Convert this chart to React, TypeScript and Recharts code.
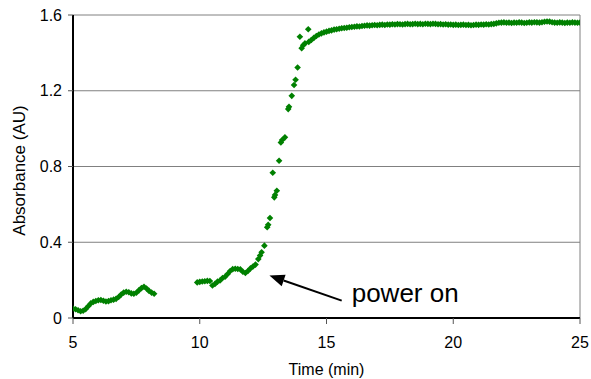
import React from 'react';
import { ScatterChart, Scatter, XAxis, YAxis, CartesianGrid, ReferenceLine } from 'recharts';

// Absorbance readings [time (min), absorbance (AU)]
const baseline: [number, number][] = [
  [5.0, 0.050], [5.1, 0.046], [5.2, 0.041], [5.3, 0.036], [5.4, 0.038], [5.5, 0.047],
  [5.6, 0.062], [5.7, 0.077], [5.8, 0.085], [5.9, 0.090], [6.0, 0.094], [6.1, 0.095],
  [6.2, 0.091], [6.3, 0.087], [6.4, 0.089], [6.5, 0.094], [6.6, 0.097], [6.7, 0.101],
  [6.8, 0.111], [6.9, 0.124], [7.0, 0.134], [7.1, 0.139], [7.2, 0.136], [7.3, 0.130],
  [7.4, 0.128], [7.5, 0.133], [7.6, 0.146], [7.7, 0.158], [7.8, 0.165], [7.9, 0.156],
  [8.0, 0.143], [8.1, 0.134], [8.2, 0.128],
];

const preheat: [number, number][] = [
  [9.9, 0.188], [10.0, 0.191], [10.1, 0.193], [10.2, 0.194], [10.3, 0.196], [10.4, 0.195],
  [10.5, 0.172], [10.6, 0.180], [10.7, 0.192], [10.8, 0.198], [10.9, 0.211], [11.0, 0.218],
  [11.1, 0.232], [11.2, 0.248], [11.3, 0.258], [11.4, 0.260], [11.5, 0.259], [11.6, 0.257],
  [11.7, 0.244], [11.8, 0.238], [11.9, 0.248], [12.0, 0.262], [12.1, 0.272], [12.2, 0.282],
];

const rise: [number, number][] = [
  [12.31, 0.311], [12.38, 0.330], [12.44, 0.347], [12.55, 0.382], [12.66, 0.479], [12.7, 0.492],
  [12.77, 0.528], [12.88, 0.767], [12.94, 0.637], [12.97, 0.650], [13.04, 0.672], [13.13, 0.830],
  [13.2, 0.927], [13.25, 0.940], [13.36, 0.954], [13.49, 1.103], [13.52, 1.115], [13.63, 1.173],
  [13.72, 1.230], [13.78, 1.258], [13.86, 1.323], [13.95, 1.485], [14.02, 1.425], [14.08, 1.440],
  [14.15, 1.450], [14.28, 1.525],
];

const plateau: [number, number][] = [
  [14.3, 1.458], [14.4, 1.468], [14.5, 1.479], [14.6, 1.489], [14.7, 1.497], [14.8, 1.503],
  [14.9, 1.508], [15.0, 1.512], [15.1, 1.516], [15.2, 1.519], [15.3, 1.523], [15.4, 1.525],
  [15.5, 1.527], [15.6, 1.530], [15.7, 1.531], [15.8, 1.533], [15.9, 1.535], [16.0, 1.537],
  [16.1, 1.538], [16.2, 1.540], [16.3, 1.539], [16.4, 1.542], [16.5, 1.543], [16.6, 1.545],
  [16.7, 1.544], [16.8, 1.546], [16.9, 1.547], [17.0, 1.546], [17.1, 1.548], [17.2, 1.549],
  [17.3, 1.547], [17.4, 1.550], [17.5, 1.549], [17.6, 1.551], [17.7, 1.550], [17.8, 1.552],
  [17.9, 1.551], [18.0, 1.550], [18.1, 1.552], [18.2, 1.553], [18.3, 1.551], [18.4, 1.552],
  [18.5, 1.554], [18.6, 1.552], [18.7, 1.553], [18.8, 1.551], [18.9, 1.554], [19.0, 1.553],
  [19.1, 1.552], [19.2, 1.554], [19.3, 1.553], [19.4, 1.551], [19.5, 1.552], [19.6, 1.550],
  [19.7, 1.551], [19.8, 1.549], [19.9, 1.550], [20.0, 1.548], [20.1, 1.549], [20.2, 1.547],
  [20.3, 1.548], [20.4, 1.549], [20.5, 1.547], [20.6, 1.548], [20.7, 1.546], [20.8, 1.547],
  [20.9, 1.549], [21.0, 1.548], [21.1, 1.550], [21.2, 1.549], [21.3, 1.551], [21.4, 1.550],
  [21.5, 1.552], [21.6, 1.553], [21.7, 1.556], [21.8, 1.559], [21.9, 1.560], [22.0, 1.561],
  [22.1, 1.559], [22.2, 1.560], [22.3, 1.558], [22.4, 1.560], [22.5, 1.559], [22.6, 1.561],
  [22.7, 1.560], [22.8, 1.558], [22.9, 1.559], [23.0, 1.561], [23.1, 1.560], [23.2, 1.562],
  [23.3, 1.561], [23.4, 1.560], [23.5, 1.562], [23.6, 1.564], [23.7, 1.566], [23.8, 1.565],
  [23.9, 1.562], [24.0, 1.560], [24.1, 1.559], [24.2, 1.561], [24.3, 1.560], [24.4, 1.558],
  [24.5, 1.560], [24.6, 1.559], [24.7, 1.561], [24.8, 1.560], [24.9, 1.559], [25.0, 1.560],
];

const timeTicks = [5, 10, 15, 20, 25];
const absTicks = [0, 0.4, 0.8, 1.2, 1.6];

// "power on" arrow, tail -> tip, in data units
const arrowSegment = [
  { x: 15.6, y: 0.092 },
  { x: 12.75, y: 0.224 },
];

const GREEN = '#008000';
const FONT = '"Liberation Sans", Arial, Helvetica, sans-serif';

const toPoints = (rows: [number, number][]) => rows.map(([t, a]) => ({ t, a }));

const Diamond = (props: any) => {
  const { cx, cy } = props;
  const r = 3.3;
  return (
    <polygon
      points={`${cx},${cy - r} ${cx + r},${cy} ${cx},${cy + r} ${cx - r},${cy}`}
      fill={GREEN}
    />
  );
};

const Arrow = (props: any) => {
  const { x1, y1, x2, y2 } = props;
  const dx = x2 - x1;
  const dy = y2 - y1;
  const len = Math.sqrt(dx * dx + dy * dy);
  const ux = dx / len;
  const uy = dy / len;
  const head = 15;
  const half = 6;
  const bx = x2 - ux * head;
  const by = y2 - uy * head;
  return (
    <g>
      <line x1={x1} y1={y1} x2={bx} y2={by} stroke="#000" strokeWidth={2} />
      <polygon
        points={`${x2},${y2} ${bx - uy * half},${by + ux * half} ${bx + uy * half},${by - ux * half}`}
        fill="#000"
      />
      <text x={x1 + 10} y={y1 + 1} fontSize={26} fill="#000" fontFamily={FONT}>
        power on
      </text>
    </g>
  );
};

export default function App() {
  return (
    <div
      style={{
        position: 'fixed',
        top: 0,
        left: 0,
        width: 591,
        height: 379,
        background: '#fff',
        fontFamily: FONT,
      }}
    >
      <ScatterChart width={591} height={379} margin={{ top: 15, right: 11, bottom: 0, left: 0 }}>
        <CartesianGrid vertical={false} stroke="#808080" />
        <ReferenceLine x={25} stroke="#808080" />
        <XAxis
          type="number"
          dataKey="t"
          domain={[5, 25]}
          ticks={timeTicks}
          allowDataOverflow
          height={61}
          tickSize={6}
          tickMargin={13}
          tick={{ fill: '#000', fontSize: 16 }}
          tickLine={{ stroke: '#555' }}
          axisLine={{ stroke: '#000', strokeWidth: 2 }}
          label={{
            content: (p: any) => (
              <text
                x={p.viewBox.x + p.viewBox.width / 2}
                y={p.viewBox.y + 57}
                textAnchor="middle"
                fontSize={16}
                fill="#000"
              >
                Time (min)
              </text>
            ),
          }}
        />
        <YAxis
          type="number"
          dataKey="a"
          domain={[0, 1.6]}
          ticks={absTicks}
          allowDataOverflow
          width={73}
          tickSize={5}
          tickMargin={6}
          tick={{ fill: '#000', fontSize: 16 }}
          tickLine={{ stroke: '#555' }}
          axisLine={{ stroke: '#000', strokeWidth: 2 }}
          label={{
            content: (p: any) => {
              const cx = p.viewBox.x + 25;
              const cy = p.viewBox.y + p.viewBox.height / 2 + 4;
              return (
                <text
                  x={cx}
                  y={cy}
                  textAnchor="middle"
                  fontSize={17}
                  fill="#000"
                  transform={`rotate(-90 ${cx} ${cy})`}
                >
                  Absorbance (AU)
                </text>
              );
            },
          }}
        />
        <Scatter data={toPoints(baseline)} shape={Diamond} isAnimationActive={false} />
        <Scatter data={toPoints(preheat)} shape={Diamond} isAnimationActive={false} />
        <Scatter data={toPoints(rise)} shape={Diamond} isAnimationActive={false} />
        <Scatter data={toPoints(plateau)} shape={Diamond} isAnimationActive={false} />
        <ReferenceLine segment={arrowSegment} shape={Arrow} />
      </ScatterChart>
    </div>
  );
}
